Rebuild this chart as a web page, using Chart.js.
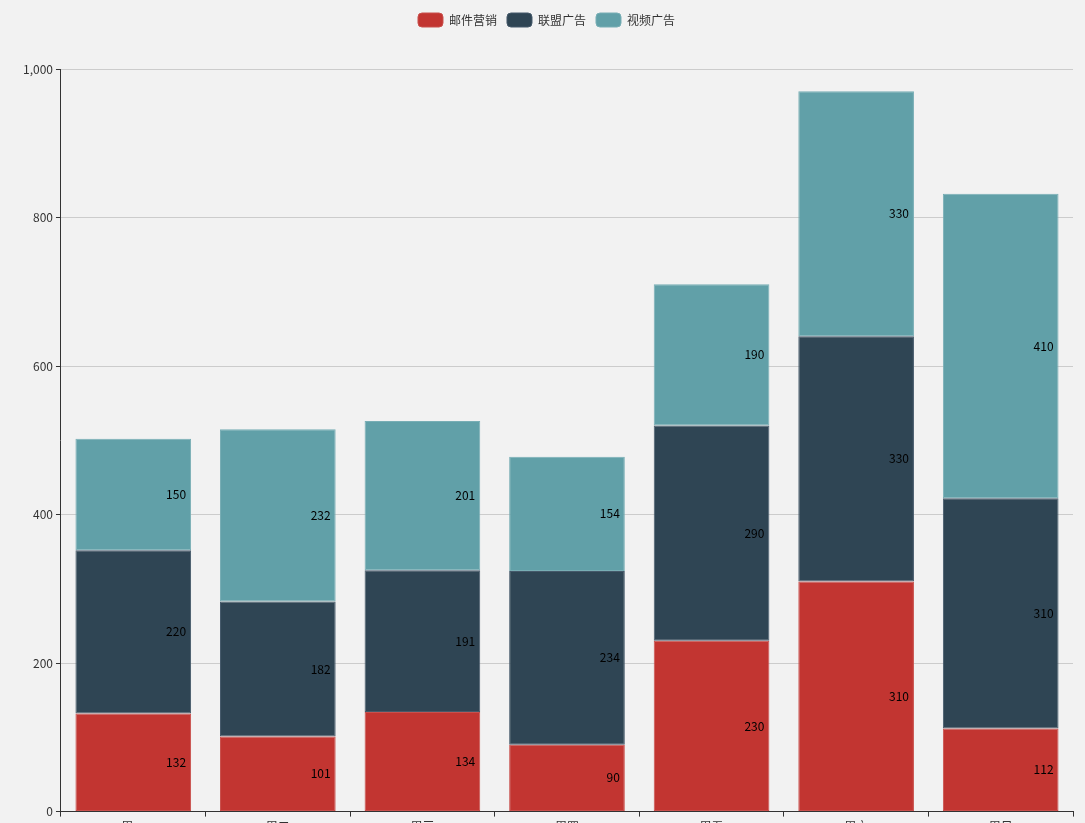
<!DOCTYPE html>
<html>
<head>
<meta charset="utf-8">
<script src="https://cdn.jsdelivr.net/npm/chart.js@4/dist/chart.umd.min.js"></script>
<style>
  html, body { margin: 0; padding: 0; background: #f2f2f2; overflow: hidden; }
  #wrap { width: 1085px; height: 837px; position: relative; }
</style>
</head>
<body>
<div id="wrap"><canvas id="chart"></canvas></div>
<script>
const days = ["周一", "周二", "周三", "周四", "周五", "周六", "周日"];
const emailVals = [132, 101, 134, 90, 230, 310, 112];
const unionVals = [220, 182, 191, 234, 290, 330, 310];
const videoVals = [150, 232, 201, 154, 190, 330, 410];
const yTicks = [0, 200, 400, 600, 800, 1000];

const font = '"Noto Sans CJK SC", "Microsoft YaHei", sans-serif';
Chart.defaults.font.family = font;
Chart.defaults.color = '#333';

// draws the value of each segment at the right side, middle height
const segLabels = {
    id: 'segLabels',
    afterDatasetsDraw(chart) {
        const ctx = chart.ctx;
        ctx.save();
        ctx.font = '12px ' + font;
        ctx.fillStyle = '#000';
        ctx.textAlign = 'right';
        ctx.textBaseline = 'middle';
        chart.data.datasets.forEach((ds, i) => {
            const meta = chart.getDatasetMeta(i);
            meta.data.forEach((bar, j) => {
                const p = bar.getProps(['x', 'y', 'base', 'width'], true);
                ctx.fillText(ds.data[j], p.x + p.width / 2 - 5, (p.y + p.base) / 2);
            });
        });
        ctx.restore();
    }
};

// extra room under the legend
const legendGap = {
    id: 'legendGap',
    beforeInit(chart) {
        const fit = chart.legend.fit;
        chart.legend.fit = function () {
            fit.bind(chart.legend)();
            this.height += 32;
        };
    }
};

const canvas = document.getElementById('chart');
const ctx = canvas.getContext('2d');

new Chart(ctx, {
    type: 'bar',
    data: {
        labels: days,
        datasets: [
            { label: '邮件营销', data: emailVals, backgroundColor: '#c23531', borderColor: '#c9504c' },
            { label: '联盟广告', data: unionVals, backgroundColor: '#2f4554', borderColor: '#45596a' },
            { label: '视频广告', data: videoVals, backgroundColor: '#61a0a8', borderColor: '#78aeb5' }
        ].map(d => Object.assign(d, {
            borderWidth: 1,
            borderSkipped: false,
            categoryPercentage: 0.8,
            barPercentage: 1
        }))
    },
    options: {
        responsive: true,
        maintainAspectRatio: false,
        animation: false,
        layout: { padding: { left: 20, right: 12, top: 3, bottom: 0 } },
        plugins: {
            legend: {
                position: 'top',
                labels: {
                    boxWidth: 25,
                    boxHeight: 14,
                    useBorderRadius: true,
                    borderRadius: 4,
                    padding: 10,
                    color: '#333',
                    font: { size: 12 }
                }
            },
            tooltip: { enabled: false }
        },
        scales: {
            x: {
                stacked: true,
                border: { display: true, color: '#333', width: 1 },
                grid: { display: true, drawOnChartArea: false, drawTicks: true, tickLength: 5, color: '#333', offset: true },
                ticks: { color: '#333', font: { size: 12 }, padding: 3 }
            },
            y: {
                stacked: true,
                min: 0,
                max: 1000,
                border: { display: true, color: '#333', width: 1 },
                grid: { color: '#ccc', tickLength: 5, tickColor: '#333' },
                afterBuildTicks: (axis) => { axis.ticks = yTicks.map(v => ({ value: v })); },
                ticks: {
                    color: '#333',
                    font: { size: 12 },
                    padding: 3,
                    callback: (v) => v.toLocaleString('en-US')
                }
            }
        }
    },
    plugins: [segLabels, legendGap]
});
</script>
</body>
</html>
